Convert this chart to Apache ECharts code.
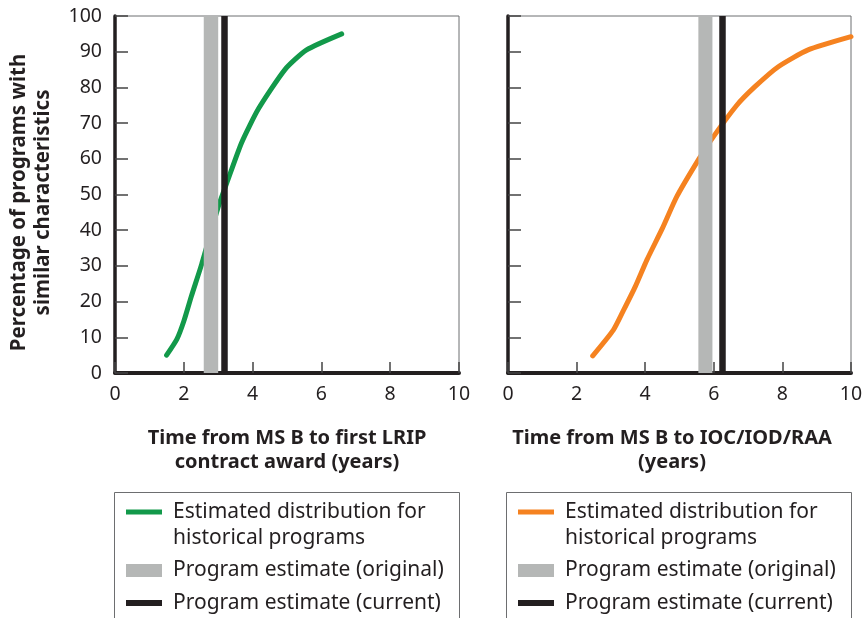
<!DOCTYPE html>
<html>
<head>
<meta charset="utf-8">
<title>Time from MS B</title>
<script src="https://cdn.jsdelivr.net/npm/echarts@6.0.0/dist/echarts.min.js"></script>
<style>
html,body{margin:0;padding:0;background:#fff;}
#main{width:864px;height:618px;}
</style>
</head>
<body>
<div id="main"></div>
<script>
// left panel: MS B -> first LRIP contract award
var lripYears = [1.5, 1.8, 2.0, 2.22, 2.52, 3.0, 3.26, 3.68, 4.17, 4.94, 5.57, 6.59];
var lripPct   = [5, 9.5, 14.5, 21.5, 30.5, 46.5, 53.5, 64.5, 74, 85, 90.5, 95];
var lripOriginal = [2.58, 3.0];
var lripCurrent = 3.19;

// right panel: MS B -> IOC/IOD/RAA
var iocYears = [2.47, 3.07, 3.37, 3.71, 4.05, 4.5, 4.92, 5.55, 5.99, 6.67, 7.2, 7.88, 8.75, 10];
var iocPct   = [4.8, 12, 17.6, 24.2, 31.7, 40.5, 49.4, 59.7, 66.2, 75, 80.2, 85.8, 90.5, 94.2];
var iocOriginal = [5.55, 5.96];
var iocCurrent = 6.25;

var xNames = ['Time from MS B to first LRIP\ncontract award (years)', 'Time from MS B to IOC/IOD/RAA\n(years)'];
var yName = 'Percentage of programs with   \nsimilar characteristics   ';
var legendNames = ['Estimated distribution for\nhistorical programs', 'Program estimate (original)', 'Program estimate (current)'];

var GREEN = '#12994a', ORANGE = '#f58220', GREY = '#b5b7b6', BLACK = '#231f20';
var FONT = '"Noto Sans", "Open Sans", sans-serif';

function zip(xs, ys) {
    var out = [];
    for (var i = 0; i < xs.length; i++) out.push([xs[i], ys[i]]);
    return out;
}

function xAxisFor(idx) {
    return {
        gridIndex: idx, type: 'value', min: 0, max: 10, interval: 2,
        name: xNames[idx], nameLocation: 'middle', nameGap: 53,
        nameTextStyle: {
            fontFamily: FONT, fontWeight: 'bold', fontSize: 20, color: BLACK, lineHeight: 24,
            padding: idx === 1 ? [0, 15, 0, 0] : 0
        },
        axisLine: {show: true, onZero: false, lineStyle: {color: BLACK, width: 4}},
        axisTick: {show: true, inside: true, length: 11, lineStyle: {color: '#444', width: 1.5}},
        axisLabel: {fontFamily: FONT, fontSize: 19.5, color: BLACK, margin: 11},
        splitLine: {show: false}
    };
}

function yAxisFor(idx) {
    var ax = {
        gridIndex: idx, type: 'value', min: 0, max: 100, interval: 10,
        axisLine: {show: true, onZero: false, lineStyle: {color: BLACK, width: 3.5}},
        axisTick: {show: true, inside: true, length: 13, lineStyle: {color: '#444', width: 1.5}},
        axisLabel: {show: idx === 0, fontFamily: FONT, fontSize: 19.5, color: BLACK, margin: 13},
        splitLine: {show: false}
    };
    if (idx === 0) {
        ax.name = yName;
        ax.nameLocation = 'middle';
        ax.nameGap = 60;
        ax.nameTextStyle = {fontFamily: FONT, fontWeight: 'bold', fontSize: 20.5, color: BLACK, lineHeight: 24};
    }
    return ax;
}

function seriesFor(idx, years, pct, original, current, color) {
    return [{
        name: legendNames[0], type: 'line', xAxisIndex: idx, yAxisIndex: idx,
        data: zip(years, pct), showSymbol: false, symbol: 'none', smooth: 0.2,
        color: color, z: 2,
        lineStyle: {color: color, width: 5, cap: 'round', join: 'round'},
        animation: false
    }, {
        name: legendNames[1], type: 'line', xAxisIndex: idx, yAxisIndex: idx,
        data: [], color: GREY, z: 3, animation: false,
        markArea: {
            silent: true, z: 3,
            itemStyle: {color: GREY},
            data: [[{xAxis: original[0]}, {xAxis: original[1]}]]
        }
    }, {
        name: legendNames[2], type: 'line', xAxisIndex: idx, yAxisIndex: idx,
        data: [], color: BLACK, z: 4, animation: false,
        markLine: {
            silent: true, z: 4, symbol: 'none', animation: false,
            label: {show: false},
            lineStyle: {color: BLACK, width: 6.5, type: 'solid'},
            data: [{xAxis: current}]
        }
    }];
}

function legendFor(left, color) {
    var txt = {fontFamily: FONT, fontSize: 21, color: BLACK, lineHeight: 26, padding: [0, 0, 0, 6]};
    return {
        left: left, top: 473, orient: 'vertical', padding: 0, itemGap: 6.5,
        itemWidth: 36, itemHeight: 13, selectedMode: false,
        textStyle: txt,
        // blank first line so the icon sits level with the first text line
        formatter: function (name) {
            return name.indexOf('\n') >= 0 ? ' \n' + name : name;
        },
        data: [{
            name: legendNames[0], icon: 'path://M0,0H36V5H0Z',
            itemStyle: {color: color, borderWidth: 0}
        }, {
            name: legendNames[1], icon: 'rect',
            itemStyle: {color: GREY, borderWidth: 0}
        }, {
            name: legendNames[2], icon: 'path://M0,0H36V6H0Z',
            itemStyle: {color: BLACK, borderWidth: 0}
        }]
    };
}

var myChart = echarts.init(document.getElementById('main'), null, {renderer: 'canvas'});

var option = {
    backgroundColor: '#fff',
    animation: false,
    textStyle: {fontFamily: FONT},
    grid: [
        {left: 115, top: 16, width: 344, height: 357, show: true, borderColor: '#6d6e70', borderWidth: 1, outerBoundsMode: 'none'},
        {left: 508, top: 16, width: 343, height: 357, show: true, borderColor: '#6d6e70', borderWidth: 1, outerBoundsMode: 'none'}
    ],
    xAxis: [xAxisFor(0), xAxisFor(1)],
    yAxis: [yAxisFor(0), yAxisFor(1)],
    legend: [legendFor(126, GREEN), legendFor(518, ORANGE)],
    graphic: [
        {type: 'rect', silent: true, shape: {x: 114.5, y: 492.5, width: 345, height: 200}, style: {fill: 'none', stroke: '#6d6e70', lineWidth: 1}},
        {type: 'rect', silent: true, shape: {x: 506.5, y: 492.5, width: 345, height: 200}, style: {fill: 'none', stroke: '#6d6e70', lineWidth: 1}}
    ],
    series: seriesFor(0, lripYears, lripPct, lripOriginal, lripCurrent, GREEN)
        .concat(seriesFor(1, iocYears, iocPct, iocOriginal, iocCurrent, ORANGE))
};

myChart.setOption(option);
</script>
</body>
</html>
